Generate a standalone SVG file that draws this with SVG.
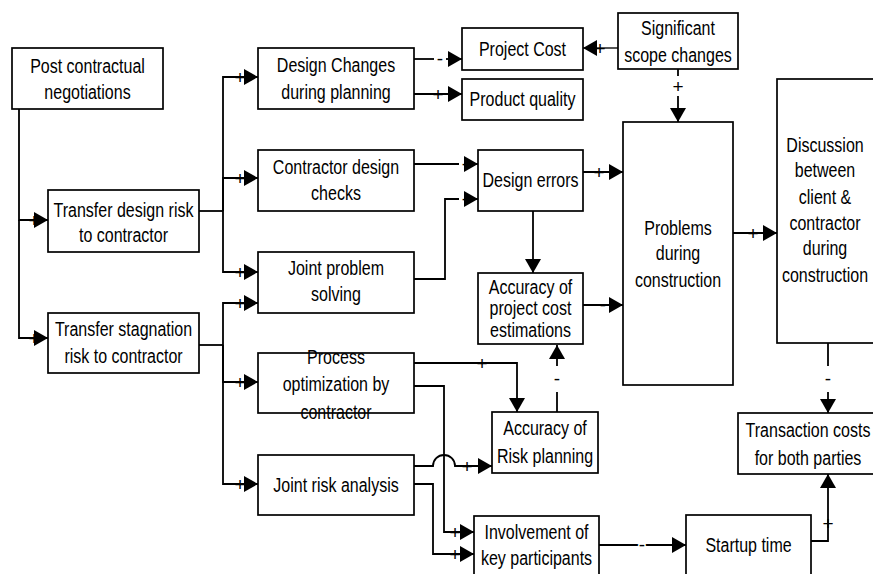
<svg xmlns="http://www.w3.org/2000/svg" width="873" height="574" viewBox="0 0 873 574">
<style>
.box rect{fill:#fff;stroke:#000;stroke-width:1.7}
.box text{font-family:"Liberation Sans",Arial,sans-serif;font-size:20px;fill:#000;text-anchor:middle}
.c path{fill:none;stroke:#000;stroke-width:1.8}
.c .g{stroke:#555}
.lb{font-family:"Liberation Sans",Arial,sans-serif;font-size:19px;fill:#000;text-anchor:middle}
.m{stroke:#fff;stroke-width:3;paint-order:stroke}
</style>
<defs>
<marker id="ah" markerUnits="userSpaceOnUse" markerWidth="15" markerHeight="17" refX="14" refY="8" orient="auto">
<path d="M0,0 L14,8 L0,16 z" fill="#000"/>
</marker>
</defs>
<rect width="873" height="574" fill="#fff"/>
<g class="c" id="connectors">
<path d="M19,109 V220 H48" marker-end="url(#ah)"/>
<path d="M19,220 V338 H48" marker-end="url(#ah)"/>
<path d="M199,211 H223"/>
<path d="M223,211 V77 H258" marker-end="url(#ah)"/>
<path d="M223,211 V178 H258" marker-end="url(#ah)"/>
<path d="M223,211 V272 H258" marker-end="url(#ah)"/>
<path d="M199,345 H223"/>
<path d="M223,345 V303 H258" marker-end="url(#ah)"/>
<path d="M223,345 V382 H258" marker-end="url(#ah)"/>
<path d="M223,345 V484 H258" marker-end="url(#ah)"/>
<path d="M414,59 H434"/>
<path d="M446,59 H462" marker-end="url(#ah)"/>
<path d="M414,94 H462" marker-end="url(#ah)"/>
<path class="g" d="M618,48 H583" marker-end="url(#ah)"/>
<path d="M678,69 V76"/>
<path d="M678,96 V122" marker-end="url(#ah)"/>
<path d="M414,164 H459"/>
<path d="M470,164 H478" marker-end="url(#ah)"/>
<path d="M414,279 H445 V199 H459"/>
<path d="M470,199 H478" marker-end="url(#ah)"/>
<path d="M533,211 V273" marker-end="url(#ah)"/>
<path d="M583,172 H623" marker-end="url(#ah)"/>
<path d="M583,305 H623" marker-end="url(#ah)"/>
<path d="M733,233 H777" marker-end="url(#ah)"/>
<path d="M828,343 V366"/>
<path d="M828,392 V413" marker-end="url(#ah)"/>
<path d="M414,363 H517 V412" marker-end="url(#ah)"/>
<path d="M414,386 H444 V532 H474" marker-end="url(#ah)"/>
<path d="M414,466 H433 A11,11 0 0 1 455,466 H492" marker-end="url(#ah)"/>
<path d="M414,484 H433 V554 H474" marker-end="url(#ah)"/>
<path d="M557,412 V392"/>
<path d="M557,366 V345" marker-end="url(#ah)"/>
<path d="M599,545 H686" marker-end="url(#ah)"/>
<path d="M811,541 H828 V474" marker-end="url(#ah)"/>
<text class="lb" x="34" y="227">+</text>
<text class="lb" x="34" y="345">+</text>
<text class="lb" x="240" y="84">+</text>
<text class="lb" x="240" y="185">+</text>
<text class="lb" x="240" y="279">+</text>
<text class="lb" x="240" y="310">+</text>
<text class="lb" x="240" y="389">+</text>
<text class="lb" x="240" y="491">+</text>
<text class="lb" x="440" y="65">-</text>
<text class="lb" x="438" y="101">+</text>
<text class="lb" x="600" y="55">+</text>
<text class="lb" x="678" y="93">+</text>
<text class="lb" x="465" y="170">-</text>
<text class="lb" x="465" y="205">-</text>
<text class="lb" x="599" y="179">+</text>
<text class="lb" x="603" y="311">-</text>
<text class="lb" x="753" y="240">+</text>
<text class="lb" x="828" y="385">-</text>
<text class="lb" x="482" y="370">+</text>
<text class="lb" x="455" y="539">+</text>
<text class="lb" x="467" y="473">+</text>
<text class="lb" x="455" y="561">+</text>
<text class="lb" x="557" y="385">-</text>
<text class="lb m" x="642" y="551">-</text>
<text class="lb" x="828" y="530">+</text>
</g>
<g class="box" id="post"><rect x="12" y="48" width="151" height="61"/><text transform="translate(87.5,73) scale(0.8,1)">Post contractual</text><text transform="translate(87.5,99) scale(0.8,1)">negotiations</text></g>
<g class="box" id="tdesign"><rect x="48" y="190" width="151" height="62"/><text transform="translate(123.5,217) scale(0.8,1)">Transfer design risk</text><text transform="translate(123.5,242) scale(0.8,1)">to contractor</text></g>
<g class="box" id="tstag"><rect x="48" y="313" width="151" height="60"/><text transform="translate(123.5,336) scale(0.8,1)">Transfer stagnation</text><text transform="translate(123.5,363) scale(0.8,1)">risk to contractor</text></g>
<g class="box" id="dchanges"><rect x="258" y="48" width="156" height="61"/><text transform="translate(336,72) scale(0.8,1)">Design Changes</text><text transform="translate(336,99) scale(0.8,1)">during planning</text></g>
<g class="box" id="cchecks"><rect x="258" y="150" width="156" height="61"/><text transform="translate(336,174) scale(0.8,1)">Contractor design</text><text transform="translate(336,200) scale(0.8,1)">checks</text></g>
<g class="box" id="jps"><rect x="258" y="252" width="156" height="61"/><text transform="translate(336,275) scale(0.8,1)">Joint problem</text><text transform="translate(336,301) scale(0.8,1)">solving</text></g>
<g class="box" id="popt"><rect x="258" y="353" width="156" height="60"/><text transform="translate(336,364) scale(0.8,1)">Process</text><text transform="translate(336,391) scale(0.8,1)">optimization by</text><text transform="translate(336,419) scale(0.8,1)">contractor</text></g>
<g class="box" id="jra"><rect x="258" y="455" width="156" height="60"/><text transform="translate(336,492) scale(0.8,1)">Joint risk analysis</text></g>
<g class="box" id="pcost"><rect x="462" y="28" width="121" height="42"/><text transform="translate(522.5,56) scale(0.8,1)">Project Cost</text></g>
<g class="box" id="pqual"><rect x="462" y="79" width="121" height="41"/><text transform="translate(522.5,106) scale(0.8,1)">Product quality</text></g>
<g class="box" id="scope"><rect x="618" y="13" width="120" height="56"/><text transform="translate(678,35) scale(0.8,1)">Significant</text><text transform="translate(678,62) scale(0.8,1)">scope changes</text></g>
<g class="box" id="derr"><rect x="478" y="150" width="105" height="61"/><text transform="translate(530.5,187) scale(0.8,1)">Design errors</text></g>
<g class="box" id="acost"><rect x="478" y="273" width="105" height="71"/><text transform="translate(530.5,294) scale(0.8,1)">Accuracy of</text><text transform="translate(530.5,315) scale(0.8,1)">project cost</text><text transform="translate(530.5,337) scale(0.8,1)">estimations</text></g>
<g class="box" id="prob"><rect x="623" y="122" width="110" height="263"/><text transform="translate(678,235) scale(0.8,1)">Problems</text><text transform="translate(678,260) scale(0.8,1)">during</text><text transform="translate(678,287) scale(0.8,1)">construction</text></g>
<g class="box" id="disc"><rect x="777" y="79" width="100" height="264"/><text transform="translate(825,152) scale(0.8,1)">Discussion</text><text transform="translate(825,177) scale(0.8,1)">between</text><text transform="translate(825,204) scale(0.8,1)">client &amp;</text><text transform="translate(825,230) scale(0.8,1)">contractor</text><text transform="translate(825,255) scale(0.8,1)">during</text><text transform="translate(825,282) scale(0.8,1)">construction</text></g>
<g class="box" id="arisk"><rect x="492" y="412" width="106" height="61"/><text transform="translate(545,435) scale(0.8,1)">Accuracy of</text><text transform="translate(545,463) scale(0.8,1)">Risk planning</text></g>
<g class="box" id="tcost"><rect x="738" y="413" width="140" height="61"/><text transform="translate(808,437) scale(0.8,1)">Transaction costs</text><text transform="translate(808,465) scale(0.8,1)">for both parties</text></g>
<g class="box" id="inv"><rect x="474" y="516" width="125" height="64"/><text transform="translate(536.5,539) scale(0.8,1)">Involvement of</text><text transform="translate(536.5,565) scale(0.8,1)">key participants</text></g>
<g class="box" id="startup"><rect x="686" y="515" width="125" height="65"/><text transform="translate(748.5,552) scale(0.8,1)">Startup time</text></g>
</svg>
